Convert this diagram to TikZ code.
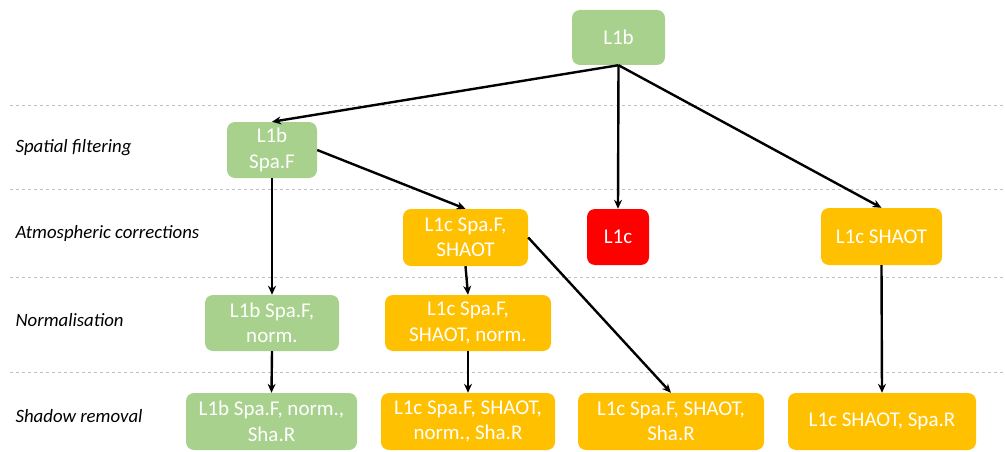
\documentclass[tikz,border=0pt]{standalone}
\usepackage{fontspec}
\setmainfont{Carlito}
\usetikzlibrary{arrows.meta}
\definecolor{cgreen}{HTML}{A9D18E}
\definecolor{corange}{HTML}{FFC000}
\definecolor{cred}{HTML}{FF0000}
\definecolor{cgrid}{HTML}{BFBFBF}
\begin{document}
\begin{tikzpicture}[x=1pt,y=-1pt,
  box/.style={rounded corners=8pt, text=white, align=center, inner sep=0pt,
    minimum height=56pt, font=\fontsize{21}{25.5}\selectfont},
  gbox/.style={box, fill=cgreen},
  obox/.style={box, fill=corange},
  rbox/.style={box, fill=cred},
  lane/.style={anchor=west, font=\fontsize{18.8}{22}\selectfont\itshape},
  sep/.style={draw=cgrid, dashed, line width=0.8pt},
  conn/.style={draw=black, line width=2.4pt, -{Stealth[length=9pt,width=8pt]}}]
\useasboundingbox (0,0) rectangle (1005,452);
% separators
\coordinate (s1a) at (10,105); \coordinate (s1b) at (1003,105);
\coordinate (s2a) at (10,189); \coordinate (s2b) at (1003,189);
\coordinate (s3a) at (10,277); \coordinate (s3b) at (1003,277);
\coordinate (s4a) at (10,372); \coordinate (s4b) at (1003,372);
\draw[sep] (s1a) -- (s1b);
\draw[sep] (s2a) -- (s2b);
\draw[sep] (s3a) -- (s3b);
\draw[sep] (s4a) -- (s4b);
% lane labels
\node[lane] (l1) at (12,148) {Spatial filtering};
\node[lane] (l2) at (12,233) {Atmospheric corrections};
\node[lane] (l3) at (12,320) {Normalisation};
\node[lane] (l4) at (12,416) {Shadow removal};
% boxes
\node[gbox, minimum width=93pt, minimum height=55pt] (top) at (618.5,37.5) {L1b};
\node[gbox, minimum width=90pt] (spaf) at (272,150) {L1b\\Spa.F};
\node[obox, minimum width=125pt, minimum height=57pt] (sfsh) at (465.5,237.5) {L1c Spa.F,\\SHAOT};
\node[rbox, minimum width=62pt] (l1c) at (618,237) {L1c};
\node[obox, minimum width=121pt, minimum height=57pt] (shaot) at (881.5,236.5) {L1c SHAOT};
\node[gbox, minimum width=134pt] (bnorm) at (272,323) {L1b Spa.F,\\norm.};
\node[obox, minimum width=166pt] (cnorm) at (468,323) {L1c Spa.F,\\SHAOT, norm.};
\node[gbox, minimum width=171pt, minimum height=57pt] (bsha) at (271.5,421.5) {L1b Spa.F, norm.,\\Sha.R};
\node[obox, minimum width=174pt, minimum height=57pt] (csha) at (468,421.5) {L1c Spa.F, SHAOT,\\norm., Sha.R};
\node[obox, minimum width=186pt, minimum height=57pt] (dsha) at (671,421.5) {L1c Spa.F, SHAOT,\\Sha.R};
\node[obox, minimum width=188pt, minimum height=57pt] (esha) at (882,421.5) {L1c SHAOT, Spa.R};
% connectors
\draw[conn] (top.south) -- (spaf.north);
\draw[conn] (top.south) -- (l1c.north);
\draw[conn] (top.south) -- (shaot.north);
\draw[conn] (spaf.east) -- (sfsh.north);
\draw[conn] (spaf.south) -- (bnorm.north);
\draw[conn] (bnorm.south) -- (bsha.north);
\draw[conn] (sfsh.south) -- (cnorm.north);
\draw[conn] (cnorm.south) -- (csha.north);
\draw[conn] (sfsh.east) -- (dsha.north);
\draw[conn] (shaot.south) -- (esha.north);
\end{tikzpicture}
\end{document}
